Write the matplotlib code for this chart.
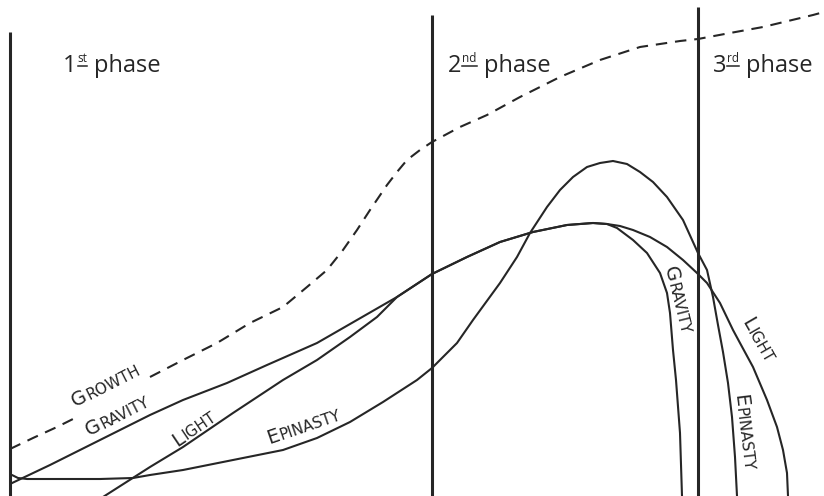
import numpy as np
import matplotlib.pyplot as plt
from matplotlib.font_manager import FontProperties
from matplotlib.transforms import offset_copy

# Phase boundaries (x) and where each boundary line starts at the top
phase_x = [10, 432, 698]
phase_top = [32, 15, 7]

# Curves traced across the three phases (x, y in drawing units, y grows downward).
# The growth line is interrupted where its label sits.
nan = np.nan
growth_x = [10, 33, 57, 77, nan, 150, 183, 217, 250, 283, 307, 327, 343, 357, 370, 387,
            397, 407, 420, 432, 460, 487, 520, 560, 600, 640, 680, 698, 730, 763, 813, 824]
growth_y = [449, 438, 427, 417, nan, 377, 360, 343, 323, 307, 287, 270, 250, 230, 210, 185,
            172, 160, 150, 142, 127, 115, 97, 77, 60, 47, 41, 39, 33, 27, 15, 12]

gravity_x = [10, 50, 100, 150, 183, 227, 267, 317, 357, 397, 432, 467, 500, 533, 567, 593,
             607, 617, 633, 647, 660, 667, 670, 673, 676, 680, 682]
gravity_y = [484, 465, 440, 415, 400, 383, 365, 343, 320, 297, 274, 257, 242, 232, 225, 223,
             224, 228, 240, 253, 273, 293, 313, 350, 380, 433, 496]

light_x = [103, 150, 183, 233, 283, 317, 350, 377, 397, 432, 467, 500, 533, 567, 593, 607,
           620, 633, 650, 667, 683, 697, 707, 720, 733, 740, 753, 767, 777, 783, 787, 788]
light_y = [497, 467, 447, 413, 380, 360, 337, 317, 297, 274, 257, 242, 232, 225, 223, 224,
           226, 230, 237, 247, 260, 273, 283, 303, 330, 343, 367, 400, 427, 450, 473, 496]

epinasty_x = [12, 18, 27, 60, 100, 133, 150, 183, 233, 283, 317, 350, 383, 417, 432, 457,
              473, 500, 517, 530, 547, 560, 573, 587, 600, 613, 627, 640, 653, 667, 683,
              698, 707, 713, 718, 723, 728, 732, 735, 737]
epinasty_y = [475, 478, 479, 479, 479, 478, 475, 470, 460, 450, 438, 422, 402, 380, 368, 343,
              320, 283, 257, 233, 207, 190, 177, 167, 163, 161, 164, 172, 182, 197, 220,
              253, 270, 297, 325, 352, 383, 417, 457, 496]

ink = '#262626'

fig = plt.figure(figsize=(8.24, 4.96), dpi=100)
ax = fig.add_axes([0, 0, 1, 1])
ax.set_xlim(0, 824)
ax.set_ylim(496, 0)
ax.axis('off')

for x, top in zip(phase_x, phase_top):
    ax.plot([x, x], [top, 496], color=ink, lw=2.2, solid_capstyle='butt')

curve = dict(color=ink, lw=1.5, solid_joinstyle='round', solid_capstyle='round')
ax.plot(growth_x, growth_y, color=ink, lw=1.5, linestyle=(0, (5.5, 3.8)))
ax.plot(gravity_x, gravity_y, **curve)
ax.plot(light_x, light_y, **curve)
ax.plot(epinasty_x, epinasty_y, **curve)

head_font = 'Open Sans'
label_font = 'DejaVu Sans'
renderer = fig.canvas.get_renderer()


def text_width(s, size, family):
    prop = FontProperties(family=family, size=size)
    w, h, d = renderer.get_text_width_height_descent(s, prop, ismath=False)
    return w


def smallcaps(x, y, word, angle, big=14, small=11):
    style = dict(rotation=angle, rotation_mode='anchor', ha='left', va='baseline',
                 family=label_font, color=ink)
    ax.text(x, y, word[0], fontsize=big, **style)
    w = text_width(word[0], big, label_font) + 1
    a = np.radians(angle)
    tr = offset_copy(ax.transData, fig=fig, x=w * np.cos(a), y=w * np.sin(a), units='dots')
    ax.text(x, y, word[1:], fontsize=small, transform=tr, **style)


# phase headings with underlined ordinal suffixes
headings = [('1', 'st'), ('2', 'nd'), ('3', 'rd')]
heading_x = [63, 448, 713]
for (num, suf), hx in zip(headings, heading_x):
    ax.text(hx, 72, num, fontsize=17, family=head_font, color=ink, va='baseline')
    w = text_width(num, 17, head_font)
    tr = offset_copy(ax.transData, fig=fig, x=w + 1, y=10, units='dots')
    ax.text(hx, 72, suf, fontsize=8.5, family=head_font, color=ink, va='baseline',
            transform=tr)
    sw = text_width(suf, 8.5, head_font)
    tr2 = offset_copy(ax.transData, fig=fig, x=w + 1, y=6, units='dots')
    ax.plot([hx, hx + sw], [72, 72], color=ink, lw=1.1, transform=tr2)
    tr3 = offset_copy(ax.transData, fig=fig, x=w + sw + 8, y=0, units='dots')
    ax.text(hx, 72, 'phase', fontsize=17, family=head_font, color=ink, va='baseline',
            transform=tr3)

# curve labels
smallcaps(75, 407, 'GROWTH', 27)
smallcaps(89, 436, 'GRAVITY', 27)
smallcaps(177, 447, 'LIGHT', 34)
smallcaps(269, 444, 'EPINASTY', 19)
smallcaps(664, 268, 'GRAVITY', -76)
smallcaps(741, 322, 'LIGHT', -60)
smallcaps(734, 395, 'EPINASTY', -83)

fig.savefig('out.png', dpi=100, facecolor='white')
